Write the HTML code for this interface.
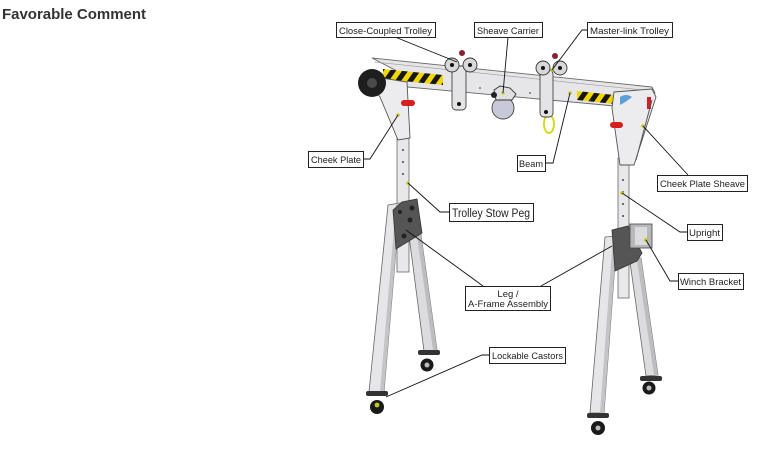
<!DOCTYPE html>
<html><head><meta charset="utf-8"><style>
html,body{margin:0;padding:0;background:#fff;width:760px;height:452px;overflow:hidden}
svg{display:block}
</style></head><body>
<svg width="760" height="452" viewBox="0 0 760 452" xmlns="http://www.w3.org/2000/svg">
<defs>
<pattern id="hz" patternUnits="userSpaceOnUse" width="10" height="10" patternTransform="rotate(35)">
<rect width="10" height="10" fill="#f2d600"/><rect width="5" height="10" fill="#161616"/>
</pattern>
</defs>
<rect width="760" height="452" fill="#fff"/>
<text x="2" y="19" font-family="Liberation Sans, sans-serif" font-weight="bold" font-size="15" fill="#333" textLength="144">Favorable Comment</text>

<!-- rear legs -->
<polygon points="408,228 420,228 437,350 424,351" fill="#dcdcde" stroke="#666" stroke-width="0.8"/>
<polygon points="416,228 420,228 437,350 433,350" fill="#bdbdc0"/>
<polygon points="630,262 641,258 658,375 646,376" fill="#dcdcde" stroke="#666" stroke-width="0.8"/>
<polygon points="637,260 641,258 658,375 654,375" fill="#bdbdc0"/>
<!-- rear casters -->
<rect x="418" y="350" width="22" height="5" rx="2" fill="#333"/>
<circle cx="427" cy="365" r="6.5" fill="#1a1a1a"/><circle cx="427" cy="365" r="2.5" fill="#bbb"/>
<rect x="640" y="376" width="22" height="5" rx="2" fill="#333"/>
<circle cx="649" cy="388" r="6.5" fill="#1a1a1a"/><circle cx="649" cy="388" r="2.5" fill="#bbb"/>

<!-- uprights -->
<rect x="397" y="132" width="12" height="140" fill="#e8e8ea" stroke="#666" stroke-width="0.8"/>
<rect x="618" y="158" width="11" height="140" fill="#e8e8ea" stroke="#666" stroke-width="0.8"/>
<g fill="#444"><circle cx="403" cy="150" r="1"/><circle cx="403" cy="162" r="1"/><circle cx="403" cy="174" r="1"/><circle cx="623" cy="180" r="1"/><circle cx="623" cy="192" r="1"/><circle cx="623" cy="204" r="1"/><circle cx="623" cy="216" r="1"/></g>

<!-- front legs -->
<polygon points="388,205 400,203 384,392 369,392" fill="#e6e6e8" stroke="#666" stroke-width="0.8"/>
<polygon points="396,204 400,203 384,392 380,392" fill="#c4c4c7"/>
<polygon points="605,237 617,236 604,413 590,413" fill="#e6e6e8" stroke="#666" stroke-width="0.8"/>
<polygon points="613,236 617,236 604,413 600,413" fill="#c4c4c7"/>
<!-- front casters -->
<rect x="366" y="391" width="22" height="5" rx="2" fill="#333"/>
<circle cx="377" cy="407" r="7" fill="#1a1a1a"/><circle cx="377" cy="405" r="2.4" fill="#c8c820"/>
<rect x="587" y="413" width="22" height="5" rx="2" fill="#333"/>
<circle cx="598" cy="428" r="7" fill="#1a1a1a"/><circle cx="598" cy="428" r="2.5" fill="#bbb"/>

<!-- A-frame plates -->
<polygon points="393,210 402,202 417,199 422,233 396,249" fill="#555" stroke="#333" stroke-width="0.8"/>
<g fill="#222"><circle cx="412" cy="208" r="2.5"/><circle cx="410" cy="220" r="2.5"/><circle cx="404" cy="236" r="2.5"/><circle cx="400" cy="212" r="2"/></g>
<polygon points="612,230 628,226 642,253 637,261 615,271" fill="#555" stroke="#333" stroke-width="0.8"/>
<rect x="630" y="224" width="22" height="24" fill="#b8b8bc" stroke="#444" stroke-width="0.8"/>
<rect x="635" y="227" width="12" height="18" fill="#dcdcdf"/>
<circle cx="646" cy="240" r="2" fill="#c8c820"/>

<!-- beam -->
<polygon points="372,58 652,87 655,93 615,106 407,87 395,70" fill="#e6e6e8" stroke="#666" stroke-width="0.9"/>
<polyline points="374,62 652,91" fill="none" stroke="#999" stroke-width="0.6"/>
<polygon points="383,69 443,75 443,85 383,79" fill="url(#hz)"/>
<polygon points="577,91 614,95 614,104 577,100" fill="url(#hz)"/>
<g fill="#555"><circle cx="420" cy="82" r="0.9"/><circle cx="480" cy="88" r="0.9"/><circle cx="530" cy="93" r="0.9"/><circle cx="590" cy="100" r="0.9"/></g>
<circle cx="570" cy="93" r="1.8" fill="#c8c820"/>

<!-- left cheek plate -->
<polygon points="362,75 407,82 410,138 398,140 380,97" fill="#ececee" stroke="#555" stroke-width="0.9"/>
<circle cx="372" cy="83" r="14" fill="#1e1e1e"/><circle cx="372" cy="83" r="5" fill="#4a4a4a"/>
<rect x="401" y="100" width="14" height="6" rx="3" fill="#d62020"/>
<circle cx="398" cy="115" r="1.8" fill="#c8c820"/>
<!-- right cheek plate -->
<polygon points="614,92 652,89 656,97 634,165 620,165 612,108" fill="#ececee" stroke="#555" stroke-width="0.9"/>
<path d="M620,97 q6,-4 12,0 q-6,5 -12,8z" fill="#5aa0d8"/>
<rect x="610" y="122" width="13" height="6" rx="3" fill="#d62020"/>
<rect x="647" y="97" width="4" height="12" fill="#d62020"/>
<line x1="652" y1="100" x2="636" y2="160" stroke="#555" stroke-width="1"/>
<circle cx="643" cy="126" r="1.8" fill="#c8c820"/>
<circle cx="622" cy="193" r="1.8" fill="#c8c820"/>
<circle cx="408" cy="183" r="1.8" fill="#c8c820"/>

<!-- close-coupled trolley -->
<rect x="452" y="66" width="14" height="44" rx="4" fill="#e4e4e6" stroke="#444" stroke-width="0.9"/>
<circle cx="452" cy="65" r="7" fill="#d8d8da" stroke="#333" stroke-width="0.9"/>
<circle cx="470" cy="65" r="7" fill="#d8d8da" stroke="#333" stroke-width="0.9"/>
<circle cx="452" cy="65" r="2" fill="#111"/><circle cx="470" cy="65" r="2" fill="#111"/>
<circle cx="462" cy="53" r="3" fill="#8a2030"/>
<circle cx="459" cy="104" r="2" fill="#111"/>
<!-- sheave carrier -->
<circle cx="503" cy="108" r="11" fill="#c8c8d8" stroke="#444" stroke-width="0.9"/>
<polygon points="494,90 500,86 510,88 516,94 512,100 496,100" fill="#e0e0e2" stroke="#333" stroke-width="0.9"/>
<circle cx="494" cy="95" r="3" fill="#222"/><circle cx="503" cy="93" r="1.6" fill="#c8c820"/>
<!-- master-link trolley -->
<ellipse cx="549" cy="124" rx="5" ry="9" fill="none" stroke="#d8d820" stroke-width="2"/>
<rect x="540" y="70" width="13" height="47" rx="4" fill="#e4e4e6" stroke="#444" stroke-width="0.9"/>
<circle cx="543" cy="68" r="7" fill="#d8d8da" stroke="#333" stroke-width="0.9"/>
<circle cx="560" cy="68" r="7" fill="#d8d8da" stroke="#333" stroke-width="0.9"/>
<circle cx="543" cy="68" r="2" fill="#111"/><circle cx="560" cy="68" r="2" fill="#111"/>
<circle cx="555" cy="56" r="3" fill="#8a2030"/>
<circle cx="552" cy="70" r="1.6" fill="#c8c820"/>
<circle cx="546" cy="112" r="2" fill="#111"/>

<!-- connectors -->
<g fill="none" stroke="#111" stroke-width="0.9">
<polyline points="395,37 457,62"/>
<polyline points="508,37 503,93"/>
<polyline points="587,30 582,30 552,70"/>
<polyline points="363,159 370,159 398,115"/>
<polyline points="545,163 553,163 570,93"/>
<polyline points="688,175 643,126"/>
<polyline points="449,212 440,212 408,183"/>
<polyline points="687,232 680,232 622,193"/>
<polyline points="678,281 670,281 646,240"/>
<polyline points="483,286 406,230"/>
<polyline points="541,286 612,246"/>
<polyline points="489,355 482,355 386,397"/>
</g>

<!-- label boxes -->
<g fill="#fff" stroke="#222" stroke-width="1">
<rect x="336.5" y="22.5" width="99" height="15"/>
<rect x="474.5" y="22.5" width="68" height="15"/>
<rect x="587.5" y="22.5" width="85" height="15"/>
<rect x="308.5" y="151.5" width="55" height="16"/>
<rect x="517.5" y="155.5" width="28" height="16"/>
<rect x="657.5" y="175.5" width="90" height="16"/>
<rect x="449.5" y="203.5" width="84" height="18"/>
<rect x="687.5" y="224.5" width="35" height="16"/>
<rect x="678.5" y="273.5" width="65" height="16"/>
<rect x="465.5" y="286.5" width="85" height="24"/>
<rect x="489.5" y="347.5" width="76" height="16"/>
</g>
<g font-family="Liberation Sans, sans-serif" font-size="9.5" fill="#222">
<text x="339" y="34" textLength="93" lengthAdjust="spacingAndGlyphs">Close-Coupled Trolley</text>
<text x="477" y="34" textLength="62" lengthAdjust="spacingAndGlyphs">Sheave Carrier</text>
<text x="590" y="34" textLength="79" lengthAdjust="spacingAndGlyphs">Master-link Trolley</text>
<text x="311" y="163" textLength="50" lengthAdjust="spacingAndGlyphs">Cheek Plate</text>
<text x="519" y="167" textLength="24" lengthAdjust="spacingAndGlyphs">Beam</text>
<text x="660" y="187" textLength="85" lengthAdjust="spacingAndGlyphs">Cheek Plate Sheave</text>
<text x="689" y="236" textLength="31" lengthAdjust="spacingAndGlyphs">Upright</text>
<text x="680" y="285" textLength="61" lengthAdjust="spacingAndGlyphs">Winch Bracket</text>
<text x="508" y="297" text-anchor="middle">Leg /</text>
<text x="468" y="307" textLength="80" lengthAdjust="spacingAndGlyphs">A-Frame Assembly</text>
<text x="492" y="359" textLength="71" lengthAdjust="spacingAndGlyphs">Lockable Castors</text>
<text x="452" y="217" font-size="11.5" textLength="78" lengthAdjust="spacingAndGlyphs">Trolley Stow Peg</text>
</g>
</svg>
</body></html>
